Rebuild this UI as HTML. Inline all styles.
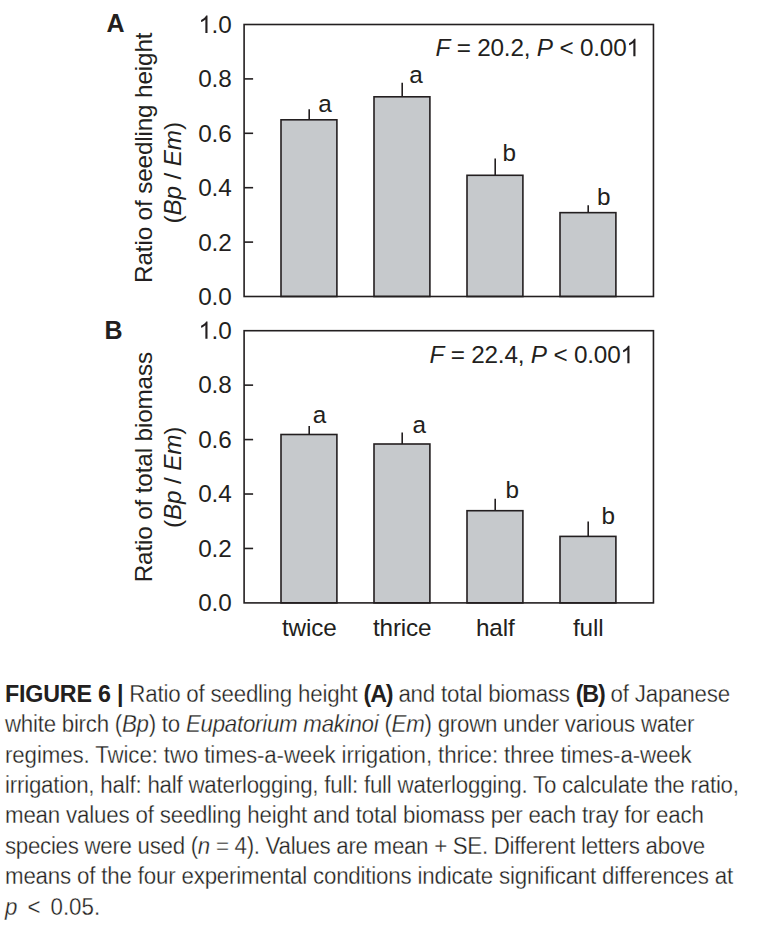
<!DOCTYPE html>
<html><head><meta charset="utf-8"><title>Figure 6</title>
<style>
html,body{margin:0;padding:0;background:#fff;}
body{width:757px;height:931px;position:relative;overflow:hidden;font-family:"Liberation Sans",sans-serif;}
svg{position:absolute;left:0;top:0;}
svg text{font-family:"Liberation Sans",sans-serif;fill:#231f20;font-size:24.3px;letter-spacing:-0.15px;}
svg text.pl{font-size:25px;font-weight:bold;letter-spacing:0;}
.l{position:absolute;left:5.4px;white-space:nowrap;font-size:23px;line-height:40px;height:40px;color:#231f20;transform-origin:0 0;transform:scaleX(0.97);-webkit-text-stroke:0.3px #fff;}
.l b{color:#231f20;font-size:24px;-webkit-text-stroke:0;}
.l b.p{letter-spacing:-1.2px;}
</style></head><body>
<svg width="757" height="931" viewBox="0 0 757 931">
<line x1="309.2" y1="109.30" x2="309.2" y2="119.80" stroke="#231f20" stroke-width="1.6"/>
<rect x="281.00" y="119.80" width="55.9" height="176.70" fill="#c6c9cc" stroke="#231f20" stroke-width="1.6"/>
<text x="318.2" y="112.0">a</text>
<line x1="402.2" y1="82.80" x2="402.2" y2="96.80" stroke="#231f20" stroke-width="1.6"/>
<rect x="374.00" y="96.80" width="55.9" height="199.70" fill="#c6c9cc" stroke="#231f20" stroke-width="1.6"/>
<text x="409.3" y="83.3">a</text>
<line x1="495.2" y1="158.50" x2="495.2" y2="175.30" stroke="#231f20" stroke-width="1.6"/>
<rect x="467.00" y="175.30" width="55.9" height="121.20" fill="#c6c9cc" stroke="#231f20" stroke-width="1.6"/>
<text x="502.5" y="161.0">b</text>
<line x1="588.2" y1="205.30" x2="588.2" y2="212.65" stroke="#231f20" stroke-width="1.6"/>
<rect x="560.00" y="212.65" width="55.9" height="83.85" fill="#c6c9cc" stroke="#231f20" stroke-width="1.6"/>
<text x="597.0" y="204.6">b</text>
<rect x="244.1" y="24.5" width="409.35" height="272.00" fill="none" stroke="#231f20" stroke-width="1.6"/>
<text x="231.5" y="305.05" text-anchor="end">0.0</text>
<line x1="244.1" y1="242.10" x2="253.1" y2="242.10" stroke="#231f20" stroke-width="1.6"/>
<text x="231.5" y="250.65" text-anchor="end">0.2</text>
<line x1="244.1" y1="187.70" x2="253.1" y2="187.70" stroke="#231f20" stroke-width="1.6"/>
<text x="231.5" y="196.25" text-anchor="end">0.4</text>
<line x1="244.1" y1="133.30" x2="253.1" y2="133.30" stroke="#231f20" stroke-width="1.6"/>
<text x="231.5" y="141.85" text-anchor="end">0.6</text>
<line x1="244.1" y1="78.90" x2="253.1" y2="78.90" stroke="#231f20" stroke-width="1.6"/>
<text x="231.5" y="87.45" text-anchor="end">0.8</text>
<path transform="translate(198.45,33.05) scale(0.011865,-0.011865)" d="M763 0H583V1147Q518 1085 412.5 1023Q307 961 223 930V1104Q374 1175 487 1276Q600 1377 647 1472H763Z" fill="#231f20"/>
<text x="231.5" y="33.05" text-anchor="end">.0</text>
<text x="435.5" y="56.3" style="letter-spacing:-0.2px"><tspan font-style="italic">F</tspan> = 20.2, <tspan font-style="italic">P</tspan> &lt; 0.00</text>
<path transform="translate(626.43,56.30) scale(0.011865,-0.011865)" d="M763 0H583V1147Q518 1085 412.5 1023Q307 961 223 930V1104Q374 1175 487 1276Q600 1377 647 1472H763Z" fill="#231f20"/>
<text x="106.4" y="31.8" class="pl">A</text>
<text transform="translate(151.8,157.8) rotate(-90)" text-anchor="middle">Ratio of seedling height</text><text transform="translate(180.6,172.8) rotate(-90)" text-anchor="middle">(<tspan font-style="italic">Bp</tspan> / <tspan font-style="italic">Em</tspan>)</text>
<line x1="309.2" y1="425.90" x2="309.2" y2="434.50" stroke="#231f20" stroke-width="1.6"/>
<rect x="281.00" y="434.50" width="55.9" height="168.40" fill="#c6c9cc" stroke="#231f20" stroke-width="1.6"/>
<text x="312.7" y="423.0">a</text>
<line x1="402.2" y1="432.50" x2="402.2" y2="444.00" stroke="#231f20" stroke-width="1.6"/>
<rect x="374.00" y="444.00" width="55.9" height="158.90" fill="#c6c9cc" stroke="#231f20" stroke-width="1.6"/>
<text x="412.6" y="432.7">a</text>
<line x1="495.2" y1="498.80" x2="495.2" y2="510.70" stroke="#231f20" stroke-width="1.6"/>
<rect x="467.00" y="510.70" width="55.9" height="92.20" fill="#c6c9cc" stroke="#231f20" stroke-width="1.6"/>
<text x="505.5" y="497.6">b</text>
<line x1="588.2" y1="521.50" x2="588.2" y2="536.40" stroke="#231f20" stroke-width="1.6"/>
<rect x="560.00" y="536.40" width="55.9" height="66.50" fill="#c6c9cc" stroke="#231f20" stroke-width="1.6"/>
<text x="601.5" y="524.1">b</text>
<rect x="244.1" y="330.7" width="409.35" height="272.20" fill="none" stroke="#231f20" stroke-width="1.6"/>
<text x="231.5" y="611.05" text-anchor="end">0.0</text>
<line x1="244.1" y1="548.46" x2="253.1" y2="548.46" stroke="#231f20" stroke-width="1.6"/>
<text x="231.5" y="556.61" text-anchor="end">0.2</text>
<line x1="244.1" y1="494.02" x2="253.1" y2="494.02" stroke="#231f20" stroke-width="1.6"/>
<text x="231.5" y="502.17" text-anchor="end">0.4</text>
<line x1="244.1" y1="439.58" x2="253.1" y2="439.58" stroke="#231f20" stroke-width="1.6"/>
<text x="231.5" y="447.73" text-anchor="end">0.6</text>
<line x1="244.1" y1="385.14" x2="253.1" y2="385.14" stroke="#231f20" stroke-width="1.6"/>
<text x="231.5" y="393.29" text-anchor="end">0.8</text>
<path transform="translate(198.45,338.85) scale(0.011865,-0.011865)" d="M763 0H583V1147Q518 1085 412.5 1023Q307 961 223 930V1104Q374 1175 487 1276Q600 1377 647 1472H763Z" fill="#231f20"/>
<text x="231.5" y="338.85" text-anchor="end">.0</text>
<text x="429.5" y="363.3" style="letter-spacing:-0.2px"><tspan font-style="italic">F</tspan> = 22.4, <tspan font-style="italic">P</tspan> &lt; 0.00</text>
<path transform="translate(620.43,363.30) scale(0.011865,-0.011865)" d="M763 0H583V1147Q518 1085 412.5 1023Q307 961 223 930V1104Q374 1175 487 1276Q600 1377 647 1472H763Z" fill="#231f20"/>
<text x="104.6" y="338.9" class="pl">B</text>
<text transform="translate(151.8,467.2) rotate(-90)" text-anchor="middle">Ratio of total biomass</text><text transform="translate(180.6,477.4) rotate(-90)" text-anchor="middle">(<tspan font-style="italic">Bp</tspan> / <tspan font-style="italic">Em</tspan>)</text>
<text x="309.2" y="635.8" text-anchor="middle">twice</text><text x="402.2" y="635.8" text-anchor="middle">thrice</text><text x="495.2" y="635.8" text-anchor="middle">half</text><text x="588.2" y="635.8" text-anchor="middle">full</text>
</svg>
<div class="l" style="top:673.73px;letter-spacing:-0.2112px"><b>FIGURE 6 |</b> Ratio of seedling height <b class="p">(A)</b> and total biomass <b class="p">(B)</b> of Japanese</div><div class="l" style="top:704.17px;letter-spacing:-0.2639px">white birch (<i>Bp</i>) to <i>Eupatorium makinoi</i> (<i>Em</i>) grown under various water</div><div class="l" style="top:734.61px;letter-spacing:-0.1243px">regimes. Twice: two times-a-week irrigation, thrice: three times-a-week</div><div class="l" style="top:765.05px;letter-spacing:-0.2251px">irrigation, half: half waterlogging, full: full waterlogging. To calculate the ratio,</div><div class="l" style="top:795.49px;letter-spacing:-0.1925px">mean values of seedling height and total biomass per each tray for each</div><div class="l" style="top:825.93px;letter-spacing:-0.3009px">species were used (<i>n</i> = 4). Values are mean + SE. Different letters above</div><div class="l" style="top:856.37px;letter-spacing:-0.1931px">means of the four experimental conditions indicate significant differences at</div><div class="l" style="top:886.81px;word-spacing:3.9435px"><i>p</i> &lt; 0.05.</div>
</body></html>
